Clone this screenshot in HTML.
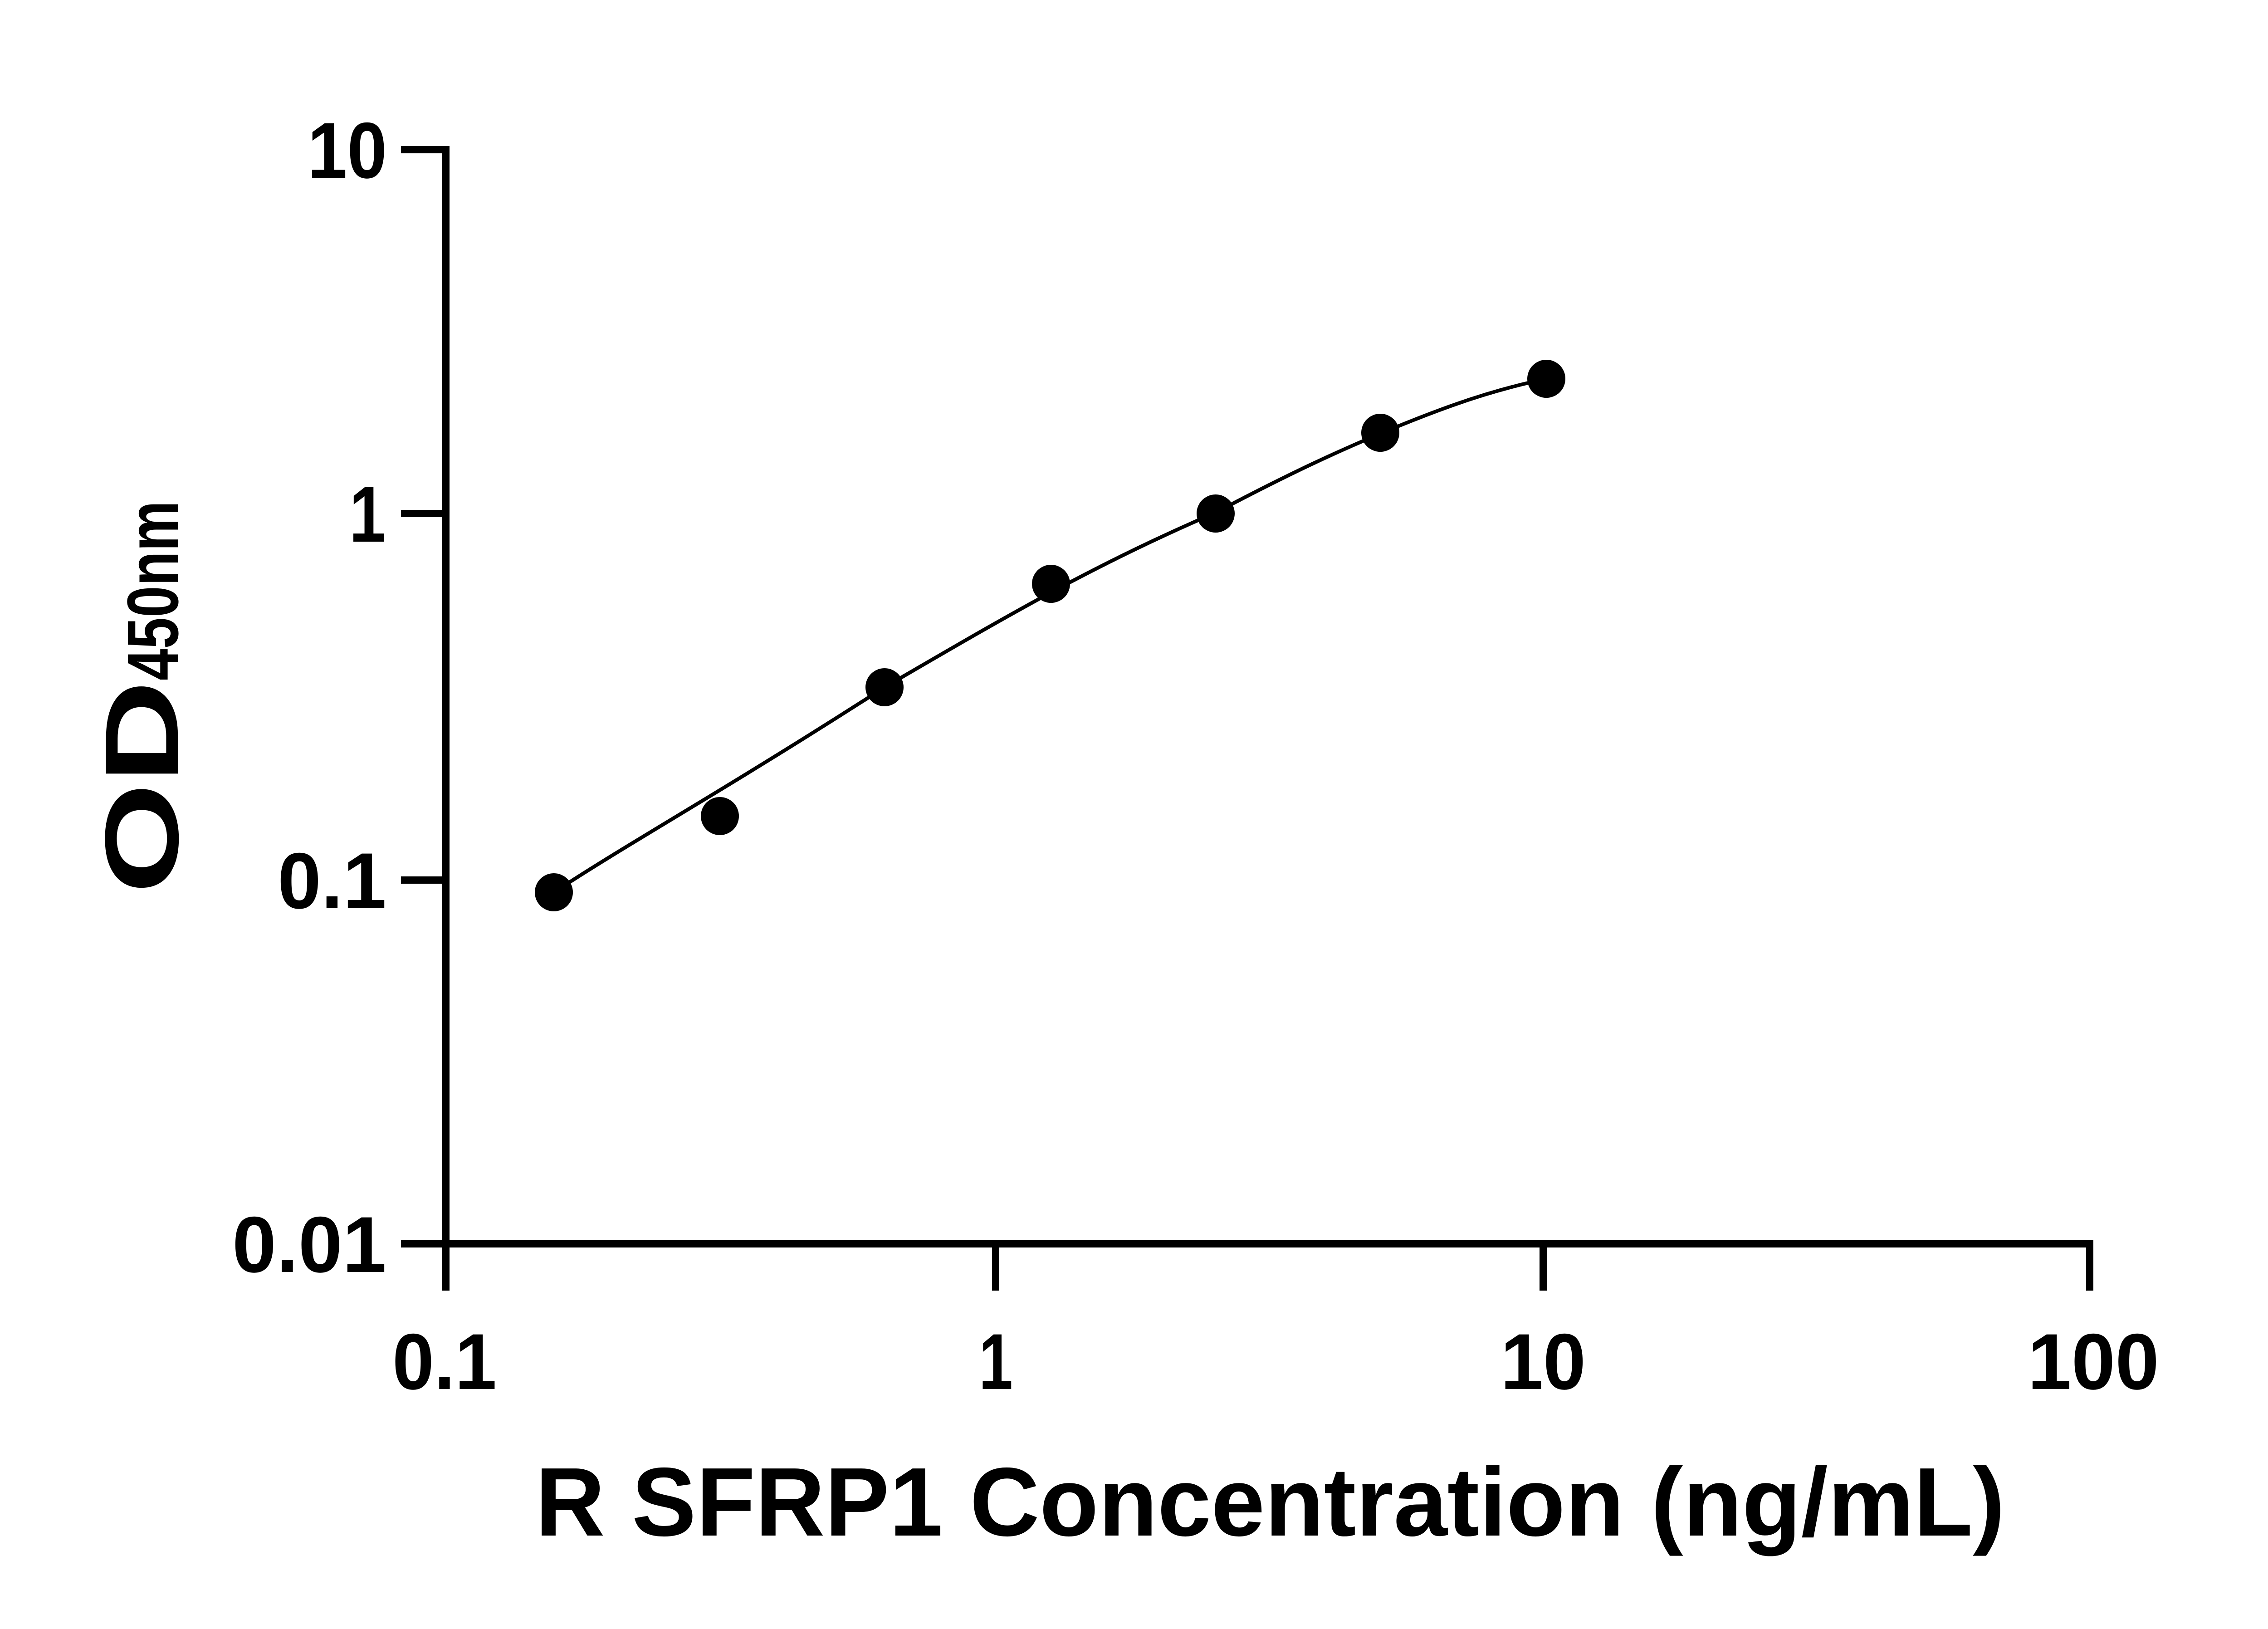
<!DOCTYPE html>
<html><head><style>html,body{margin:0;padding:0;background:#fff}svg{display:block}</style></head>
<body>
<svg width="5130" height="3591" viewBox="0 0 5130 3591" xmlns="http://www.w3.org/2000/svg" font-family="Liberation Sans, sans-serif" font-weight="bold">
<g stroke="#000" stroke-width="16" fill="none" stroke-linecap="butt">
<line x1="983" y1="322" x2="983" y2="2845"/>
<line x1="884" y1="2742" x2="4615" y2="2742"/>
<line x1="884" y1="330" x2="983" y2="330"/>
<line x1="884" y1="1132" x2="983" y2="1132"/>
<line x1="884" y1="1940" x2="983" y2="1940"/>
<line x1="2195" y1="2742" x2="2195" y2="2845"/>
<line x1="3402" y1="2742" x2="3402" y2="2845"/>
<line x1="4607" y1="2734" x2="4607" y2="2845"/>
</g>
<path d="M1221,1967 C1400,1850 1600,1740 1950,1515 C2200,1370 2400,1250 2680,1130 C2850,1040 2950,995 3045,955 C3200,890 3300,858 3409,835" stroke="#000" stroke-width="8" fill="none"/>
<g fill="#000">
<circle cx="1221" cy="1967" r="42"/>
<circle cx="1587" cy="1799" r="42"/>
<circle cx="1950" cy="1515" r="42"/>
<circle cx="2317" cy="1287" r="42"/>
<circle cx="2680" cy="1132" r="42"/>
<circle cx="3043" cy="954" r="42"/>
<circle cx="3409" cy="835" r="42"/>
</g>
<g font-size="175">
<text x="678" y="392" textLength="175" lengthAdjust="spacingAndGlyphs">10</text>
<text x="770" y="1194" textLength="80" lengthAdjust="spacingAndGlyphs">1</text>
<text x="612" y="2002" textLength="240" lengthAdjust="spacingAndGlyphs">0.1</text>
<text x="512" y="2804" textLength="340" lengthAdjust="spacingAndGlyphs">0.01</text>
<text x="865" y="3062" textLength="230" lengthAdjust="spacingAndGlyphs">0.1</text>
<text x="2158" y="3062" textLength="75" lengthAdjust="spacingAndGlyphs">1</text>
<text x="3308" y="3062" textLength="188" lengthAdjust="spacingAndGlyphs">10</text>
<text x="4470" y="3062" textLength="290" lengthAdjust="spacingAndGlyphs">100</text>
</g>
<text x="1180" y="3385" font-size="215" textLength="3240" lengthAdjust="spacingAndGlyphs">R SFRP1 Concentration (ng/mL)</text>
<text transform="translate(392,1970) rotate(-90)" font-size="230"><tspan textLength="470" lengthAdjust="spacingAndGlyphs">OD</tspan><tspan font-size="160" textLength="396" lengthAdjust="spacingAndGlyphs">450nm</tspan></text>
</svg>
</body></html>
